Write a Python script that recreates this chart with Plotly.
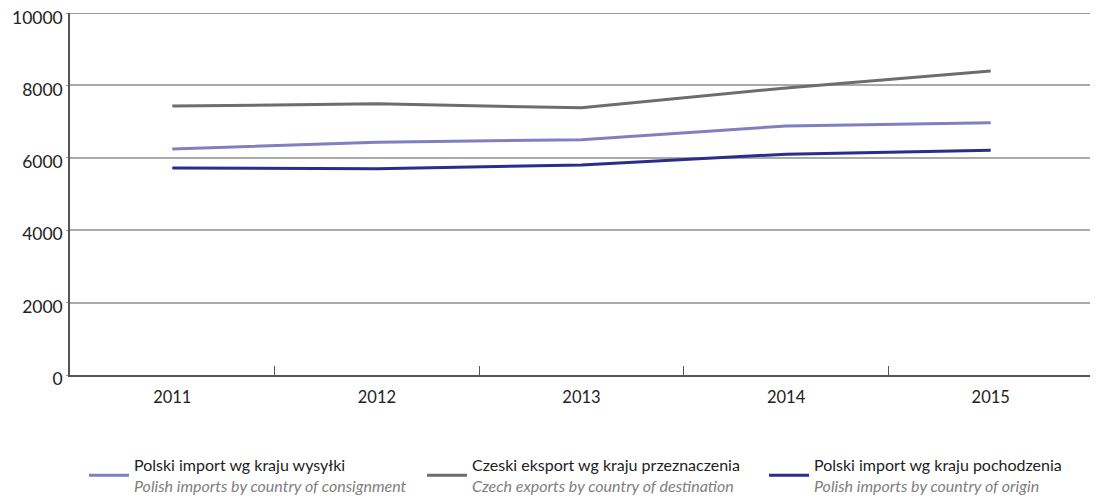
import plotly.graph_objects as go

years = ["2011", "2012", "2013", "2014", "2015"]
pl_consignment = [6240, 6430, 6500, 6880, 6970]
cz_export = [7430, 7490, 7380, 7930, 8400]
pl_origin = [5720, 5700, 5800, 6100, 6210]
y_ticks = [0, 2000, 4000, 6000, 8000, 10000]

names_pl = ["Polski import wg kraju wysyłki", "Czeski eksport wg kraju przeznaczenia", "Polski import wg kraju pochodzenia"]
names_en = ["Polish imports by country of consignment", "Czech exports by country of destination", "Polish imports by country of origin"]
series = [pl_consignment, cz_export, pl_origin]
colors = ["#8080c0", "#6d6d6d", "#2b2d8c"]

FONT = "Lato"
FS = 16
YFS = 17.5
W, H = 1090, 491  # page body adds 8px offset

legend_ids = ["legend", "legend2", "legend3"]
legend_x = [76, 414, 756]

fig = go.Figure()
for vals, npl, nen, c, lid in zip(series, names_pl, names_en, colors, legend_ids):
    fig.add_trace(go.Scatter(
        x=years, y=vals, mode="lines",
        line=dict(color=c, width=3),
        name=f"{npl}<br><i><span style='color:#808080'>{nen}</span></i>",
        legend=lid,
    ))

fig.add_shape(type="line", xref="paper", yref="y", x0=0, x1=1, y0=y_ticks[-1], y1=y_ticks[-1],
              line=dict(color="#777777", width=1.5), layer="below")

# top tick label (plotly hides it because it touches the figure edge)
fig.add_annotation(x=0, xref="paper", y=y_ticks[-1], yref="y", text=str(y_ticks[-1]),
                   showarrow=False, xanchor="right", yanchor="middle", xshift=-5, yshift=-4,
                   font=dict(family=FONT, size=YFS, color="#222222"))

legend_common = dict(
    orientation="h", xref="container", yref="container",
    y=1 - 440 / H, xanchor="left", yanchor="top",
    font=dict(family=FONT, size=FS, color="#222222"),
    itemwidth=40, bgcolor="rgba(0,0,0,0)",
)

fig.update_layout(
    width=W, height=H,
    margin=dict(l=62, r=5, t=5, b=124, autoexpand=False),
    paper_bgcolor="white", plot_bgcolor="white",
    font=dict(family=FONT, size=FS, color="#222222"),
    showlegend=True,
    legend=dict(x=legend_x[0] / W, **legend_common),
    legend2=dict(x=legend_x[1] / W, **legend_common),
    legend3=dict(x=legend_x[2] / W, **legend_common),
    xaxis=dict(
        type="category", range=[-0.5, 4.5],
        showline=True, linecolor="#555555", linewidth=1.5,
        ticks="inside", tickson="boundaries", ticklen=9, tickcolor="#555555", tickwidth=1.2,
        showgrid=False, ticklabelstandoff=6,
        tickfont=dict(size=16.5, color="#222222"),
    ),
    yaxis=dict(
        range=[0, 10000], tickvals=y_ticks, tickformat="d",
        showline=True, linecolor="#555555", linewidth=1.5,
        ticks="outside", ticklen=2, tickcolor="#999999",
        showgrid=True, gridcolor="#aaaaaa", gridwidth=1.5,
        zeroline=False, ticklabelstandoff=0, ticklabelshift=4,
        tickfont=dict(size=YFS, color="#222222"),
    ),
)

fig.write_html("out.html")
